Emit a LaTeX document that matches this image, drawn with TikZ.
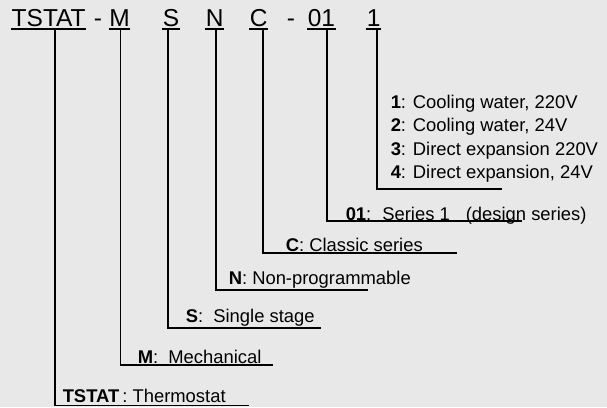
\documentclass[tikz,border=0pt]{standalone}
\usepackage{fontspec}
\setmainfont{Liberation Sans}
\usepackage{tikz}
\usetikzlibrary{positioning}
\definecolor{paper}{HTML}{E8E8E8}

\begin{document}
\begin{tikzpicture}[x=1pt,y=-1pt,line width=1.5pt]
	\tikzstyle{code}=[anchor=base west,inner sep=0pt,text depth=2.3pt,font=\fontsize{24.5}{28}\selectfont]
	\tikzstyle{meaning}=[anchor=base west,inner sep=0pt,font=\fontsize{18.4}{22}\selectfont]
	\fill[paper] (0,0) rectangle (607,407);
	\useasboundingbox (0,0) rectangle (607,407);

	% the code, letter group by letter group
	\node[code] (tstat) at (11,26) {TSTAT};
	\node[code] (dashA) at (93,26) {-};
	\node[code] (mech) at (108.5,26) {M};
	\node[code] (stage) at (162,26) {S};
	\node[code] (prog) at (205,26) {N};
	\node[code] (series) at (249,26) {C};
	\node[code] (dashB) at (286,26) {-};
	\node[code] (design) at (307,26) {01};
	\node[code] (kind) at (366,26) {1};

	\foreach \n in {tstat,mech,stage,prog,series,design,kind}
		\draw (\n.south west) -- (\n.south east);

	% meanings
	\node[meaning] (kindA) at (390,108.5) {\textbf{1}: Cooling water, 220V};
	\node[meaning] (kindB) at (390,131.5) {\textbf{2}: Cooling water, 24V};
	\node[meaning] (kindC) at (390,155) {\textbf{3}: Direct expansion 220V};
	\node[meaning] (kindD) at (390,178) {\textbf{4}: Direct expansion, 24V};
	\node[meaning] (designL) at (345,220) {\textbf{01}:\hspace{11pt}Series 1\hspace{16pt}(design series)};
	\node[meaning] (seriesL) at (285,251.5) {\textbf{C}: Classic series};
	\node[meaning] (progL) at (228,284) {\textbf{N}: Non-programmable};
	\node[meaning] (stageL) at (185,322) {\textbf{S}:\ \ Single stage};
	\node[meaning] (mechL) at (137,363.5) {\textbf{M}:\ \ Mechanical};
	\node[meaning] (tstatL) at (62,402.5) {\textbf{TSTAT}\,: Thermostat};

	% leader corners and ends
	\coordinate (kindK) at (377,189);   \coordinate (kindE) at (502,189);
	\coordinate (designK) at (327,221); \coordinate (designE) at (522,221);
	\coordinate (seriesK) at (263,253); \coordinate (seriesE) at (457,253);
	\coordinate (progK) at (216,290);   \coordinate (progE) at (368,290);
	\coordinate (stageK) at (168,328);  \coordinate (stageE) at (321,328);
	\coordinate (mechK) at (120.5,365); \coordinate (mechE) at (273,365);
	\coordinate (tstatK) at (55,405.5); \coordinate (tstatE) at (249,405.5);

	\foreach \n in {tstat,mech,stage,prog,series,design,kind}
		\draw (\n.south -| \n K) -- (\n K) -- (\n E);
\end{tikzpicture}
\end{document}
